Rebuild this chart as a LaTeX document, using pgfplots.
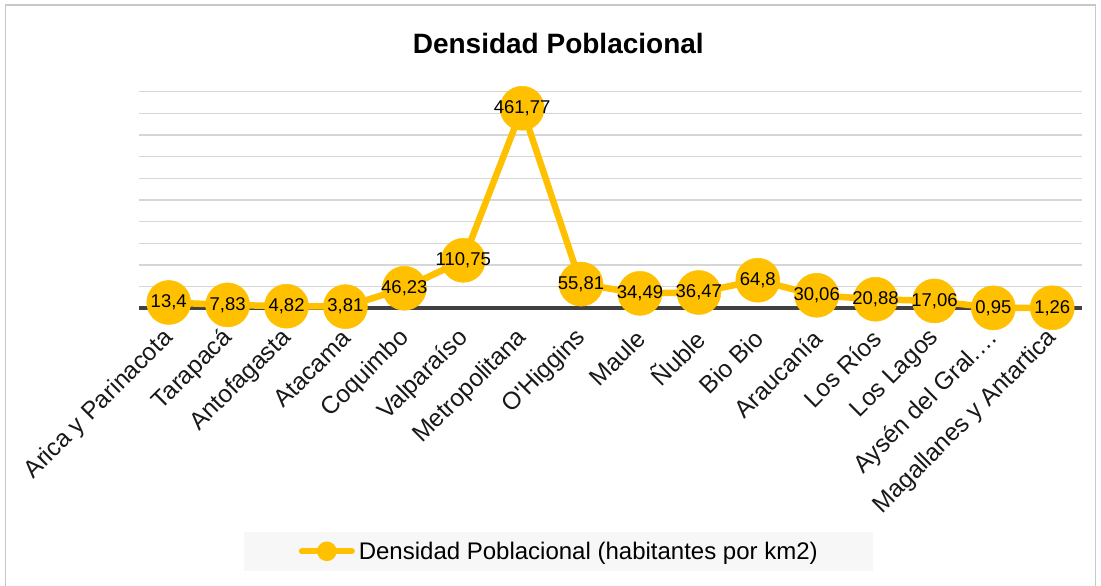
\documentclass[border=0pt]{standalone}
\usepackage{fontspec}
\setmainfont{Liberation Sans}
\usepackage{pgfplots}
\usepackage{pgfplotstable}
\pgfplotsset{compat=1.18}
\definecolor{gold}{HTML}{FFC000}
\definecolor{gridgray}{HTML}{D6D6D6}
\definecolor{axisgray}{HTML}{404040}
\definecolor{legbg}{HTML}{F7F7F7}
\definecolor{framegray}{HTML}{C8C8C8}
\pgfplotstableread{
x y lab
0 13.4 13,4
1 7.83 7,83
2 4.82 4,82
3 3.81 3,81
4 46.23 46,23
5 110.75 110,75
6 461.77 461,77
7 55.81 55,81
8 34.49 34,49
9 36.47 36,47
10 64.8 64,8
11 30.06 30,06
12 20.88 20,88
13 17.06 17,06
14 0.95 0,95
15 1.26 1,26
}\densdata
\begin{document}
\begin{tikzpicture}[x=1pt,y=1pt]
\useasboundingbox (0,0) rectangle (1101,586);
\fill[white] (0,0) rectangle (1101,586);
\draw[framegray, line width=1.5pt] (5.5,581) rectangle (1095.5,-10);
\begin{axis}[
  at={(139.3pt,277.7pt)}, anchor=south west,
  scale only axis, width=942.4pt, height=216.6pt,
  xmin=-0.5, xmax=15.5, ymin=0, ymax=500,
  clip=false,
  axis line style={draw=none},
  xtick={0,...,15},
  xticklabels={Arica y Parinacota, Tarapacá, Antofagasta, Atacama, Coquimbo, Valparaíso, Metropolitana, O\textquotesingle Higgins, Maule, Ñuble, Bio Bio, Araucanía, Los Ríos, Los Lagos, Aysén del Gral.…, Magallanes y Antartica},
  ytick={50,100,...,500}, yticklabels={},
  ymajorgrids, grid style={gridgray, line width=1.5pt},
  extra y ticks={0}, extra y tick labels={},
  extra y tick style={grid style={axisgray, line width=4pt}},
  tick style={draw=none},
  xticklabel style={xshift=1pt, rotate=45, anchor=east, inner sep=0pt,
    font=\fontsize{24.5}{28}\selectfont, text=black!90},
  xticklabel shift=26pt,
  title={Densidad Poblacional},
  title style={at={(0.4446,1.1464)}, anchor=base, inner sep=0pt,
    font=\bfseries\fontsize{28}{32}\selectfont},
  legend style={at={(0.4446,-1.1219)}, anchor=center, fill=legbg, draw=none,
    inner xsep=55pt, inner ysep=10pt, nodes={inner sep=0pt},
    column sep=4pt, font=\fontsize{24}{28}\selectfont},
  legend image code/.code={
    \draw[line width=6pt, gold, line cap=round] (3pt,0pt) -- (53pt,0pt);
    \fill[gold] (28pt,0pt) circle (6.5pt);
  },
]
\addplot[gold, line width=6.5pt, mark=*, mark size=22pt,
  mark options={fill=gold, draw=gold, line width=0.5pt},
  point meta=explicit symbolic,
  nodes near coords,
  every node near coord/.append style={anchor=center, inner sep=0pt,
    font=\fontsize{18.5}{22}\selectfont, text=black}]
  table[x=x, y=y, meta=lab] {\densdata};
\addlegendentry{Densidad Poblacional (habitantes por km2)}
\end{axis}
\end{tikzpicture}
\end{document}
